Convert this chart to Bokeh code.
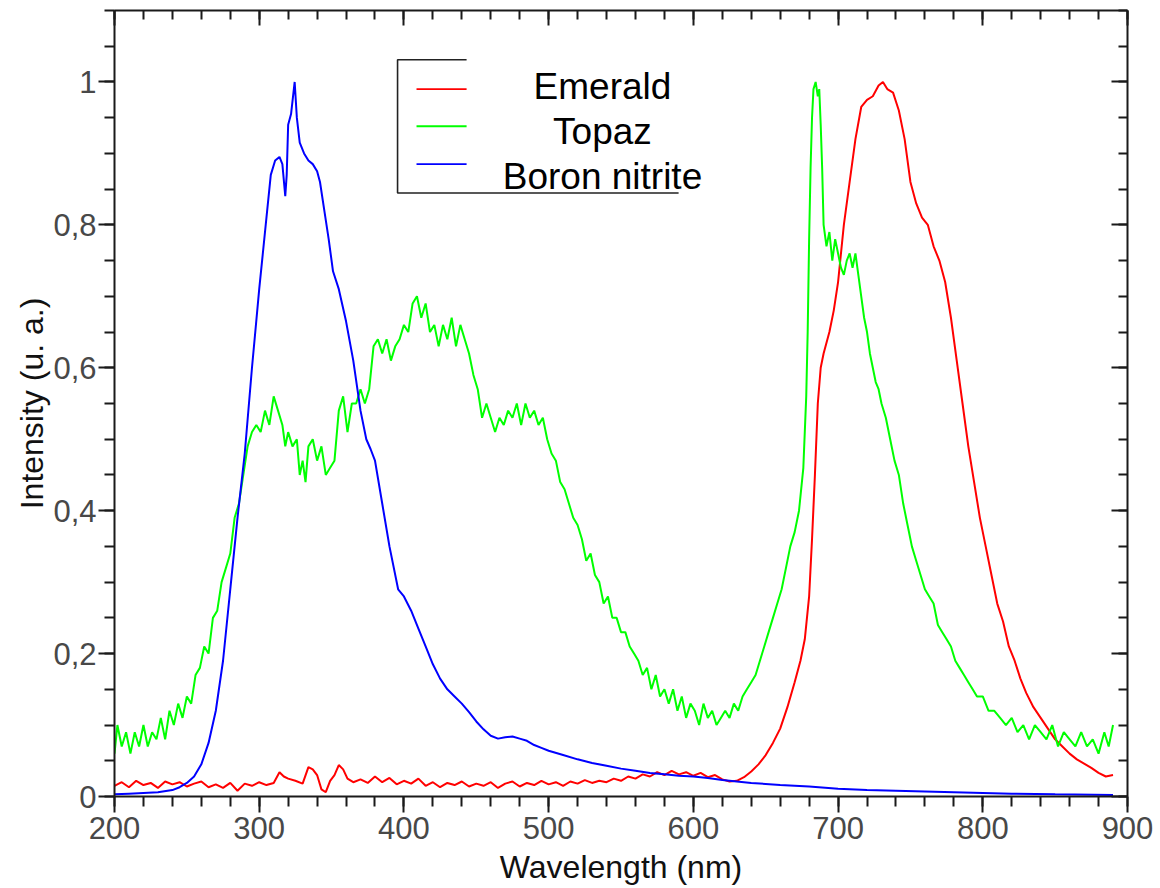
import math
from bokeh.plotting import figure
from bokeh.models import FixedTicker, LinearAxis, CustomJSTickFormatter, Label, Range1d
from bokeh.embed import file_html
from bokeh.resources import INLINE

FONT = "Liberation Sans"

# ---------------- axes / ticks ----------------
x_ticks = [200, 300, 400, 500, 600, 700, 800, 900]
x_minor = [200, 220, 240, 260, 280, 300, 320, 340, 360, 380, 400, 420, 440, 460, 480,
           500, 520, 540, 560, 580, 600, 620, 640, 660, 680, 700, 720, 740, 760, 780,
           800, 820, 840, 860, 880, 900]
y_ticks = [0, 0.2, 0.4, 0.6, 0.8, 1.0]
y_minor = [0, 0.05, 0.1, 0.15, 0.2, 0.25, 0.3, 0.35, 0.4, 0.45, 0.5, 0.55, 0.6, 0.65,
           0.7, 0.75, 0.8, 0.85, 0.9, 0.95, 1.0, 1.05, 1.1]
x_title = "Wavelength (nm)"
y_title = "Intensity (u. a.)"

# ---------------- series ----------------
series_names = ["Emerald", "Topaz", "Boron nitrite"]
series_colors = ["#ff0000", "#00ff00", "#0000ff"]

wl_emerald = [200, 205, 210, 215, 220, 225, 230, 235, 240, 245, 250, 255, 260, 265, 270,
              275, 280, 285, 290, 295, 300, 305, 310, 314, 317, 320, 325, 330, 334, 337,
              340, 343, 346, 349, 352, 355, 358, 361, 365, 370, 375, 380, 385, 390, 395,
              400, 405, 410, 415, 420, 425, 430, 435, 440, 445, 450, 455, 460, 465, 470,
              475, 480, 485, 490, 495, 500, 505, 510, 515, 520, 525, 530, 535, 540, 545,
              550, 555, 560, 565, 570, 575, 580, 585, 590, 595, 600, 605, 610, 615, 620,
              625, 630, 635, 640, 645, 650, 655, 660, 665, 670, 674, 677, 680, 682, 684,
              686, 688, 690, 694, 697, 700, 704, 708, 712, 716, 720, 724, 728, 731, 734,
              738, 742, 746, 750, 754, 758, 762, 766, 770, 774, 778, 782, 786, 790, 794,
              798, 802, 806, 810, 814, 818, 822, 826, 830, 835, 840, 845, 850, 855, 860,
              865, 870, 875, 880, 885, 890]
emerald = [0.015, 0.020, 0.013, 0.022, 0.016, 0.019, 0.012, 0.021, 0.017, 0.020, 0.014, 0.018,
           0.021, 0.013, 0.017, 0.012, 0.019, 0.008, 0.018, 0.015, 0.020, 0.016, 0.019, 0.034,
           0.028, 0.025, 0.022, 0.018, 0.041, 0.038, 0.030, 0.010, 0.006, 0.022, 0.030, 0.044,
           0.038, 0.025, 0.020, 0.024, 0.019, 0.028, 0.020, 0.026, 0.017, 0.022, 0.018, 0.025,
           0.015, 0.020, 0.013, 0.019, 0.016, 0.021, 0.014, 0.018, 0.015, 0.020, 0.012, 0.018,
           0.021, 0.014, 0.019, 0.016, 0.022, 0.017, 0.020, 0.015, 0.021, 0.018, 0.023, 0.019,
           0.022, 0.020, 0.025, 0.022, 0.028, 0.025, 0.031, 0.028, 0.034, 0.030, 0.036, 0.031,
           0.034, 0.029, 0.033, 0.027, 0.030, 0.024, 0.021, 0.022, 0.027, 0.035, 0.045, 0.058,
           0.075, 0.095, 0.125, 0.160, 0.190, 0.220, 0.280, 0.360, 0.450, 0.550, 0.600, 0.620,
           0.650, 0.680, 0.720, 0.800, 0.860, 0.920, 0.965, 0.975, 0.980, 0.995, 1.000, 0.990,
           0.985, 0.960, 0.920, 0.860, 0.830, 0.810, 0.800, 0.770, 0.750, 0.720, 0.670, 0.610,
           0.550, 0.490, 0.440, 0.390, 0.350, 0.310, 0.270, 0.245, 0.210, 0.190, 0.165, 0.145,
           0.125, 0.110, 0.095, 0.080, 0.070, 0.060, 0.052, 0.046, 0.040, 0.033, 0.028, 0.030]

wl_topaz = [200, 202, 205, 208, 211, 214, 217, 220, 223, 226, 229, 232, 235, 238, 241, 244,
            247, 250, 253, 256, 259, 262, 265, 268, 271, 274, 277, 280, 283, 286, 289, 292,
            295, 298, 301, 304, 307, 310, 313, 316, 318, 320, 323, 326, 328, 330, 332, 334,
            337, 340, 343, 346, 349, 352, 355, 358, 361, 364, 367, 370, 373, 376, 379, 382,
            385, 388, 391, 394, 397, 400, 403, 406, 409, 412, 415, 418, 421, 424, 427, 430,
            433, 436, 439, 442, 445, 448, 451, 454, 457, 460, 463, 466, 469, 472, 475, 478,
            481, 484, 487, 490, 493, 496, 499, 502, 505, 508, 511, 514, 517, 520, 523, 526,
            529, 532, 535, 538, 541, 544, 547, 550, 553, 556, 559, 562, 565, 568, 571, 574,
            577, 580, 583, 586, 589, 592, 595, 598, 601, 604, 607, 610, 613, 616, 619, 622,
            625, 628, 631, 634, 637, 640, 643, 646, 649, 652, 655, 658, 661, 664, 667, 670,
            673, 676, 678, 679, 680, 681, 682, 683, 684.5, 686, 687, 688, 689, 690, 692, 694,
            696, 698, 700, 702, 704, 706, 708, 710, 712, 714, 716, 718, 720, 722, 724, 726,
            728, 730, 733, 736, 739, 742, 745, 748, 751, 754, 757, 760, 763, 766, 769, 772,
            775, 778, 781, 784, 787, 790, 793, 796, 800, 804, 808, 812, 816, 820, 824, 828,
            832, 836, 840, 844, 848, 852, 856, 860, 864, 868, 872, 876, 880, 884, 887, 890]
topaz = [0.06, 0.10, 0.07, 0.09, 0.06, 0.09, 0.07, 0.10, 0.07, 0.09, 0.08, 0.11, 0.08, 0.12,
         0.10, 0.13, 0.11, 0.14, 0.13, 0.17, 0.18, 0.21, 0.20, 0.25, 0.26, 0.30, 0.32, 0.34,
         0.39, 0.41, 0.45, 0.49, 0.51, 0.52, 0.51, 0.54, 0.52, 0.56, 0.54, 0.52, 0.49, 0.51,
         0.49, 0.50, 0.45, 0.47, 0.44, 0.49, 0.50, 0.47, 0.49, 0.45, 0.46, 0.47, 0.54, 0.56,
         0.51, 0.55, 0.55, 0.57, 0.55, 0.57, 0.63, 0.64, 0.62, 0.64, 0.61, 0.63, 0.64, 0.66,
         0.65, 0.69, 0.70, 0.67, 0.69, 0.65, 0.66, 0.63, 0.66, 0.64, 0.67, 0.63, 0.66, 0.64,
         0.62, 0.59, 0.57, 0.53, 0.55, 0.53, 0.51, 0.53, 0.52, 0.54, 0.53, 0.55, 0.52, 0.55,
         0.53, 0.54, 0.52, 0.53, 0.50, 0.48, 0.47, 0.44, 0.43, 0.41, 0.39, 0.38, 0.36, 0.33,
         0.34, 0.31, 0.30, 0.27, 0.28, 0.25, 0.25, 0.23, 0.23, 0.21, 0.20, 0.19, 0.17, 0.18,
         0.15, 0.17, 0.14, 0.15, 0.13, 0.15, 0.12, 0.14, 0.11, 0.13, 0.12, 0.10, 0.13, 0.11,
         0.12, 0.10, 0.11, 0.12, 0.11, 0.13, 0.12, 0.14, 0.15, 0.16, 0.17, 0.19, 0.21, 0.23,
         0.25, 0.27, 0.29, 0.32, 0.35, 0.37, 0.40, 0.46, 0.56, 0.65, 0.78, 0.88, 0.95, 0.99,
         1.00, 0.98, 0.99, 0.94, 0.88, 0.80, 0.77, 0.79, 0.75, 0.78, 0.76, 0.74, 0.73, 0.75,
         0.76, 0.74, 0.76, 0.73, 0.70, 0.67, 0.65, 0.62, 0.60, 0.58, 0.57, 0.55, 0.53, 0.50,
         0.47, 0.45, 0.41, 0.38, 0.35, 0.33, 0.31, 0.29, 0.28, 0.27, 0.24, 0.23, 0.22, 0.21,
         0.19, 0.18, 0.17, 0.16, 0.15, 0.14, 0.14, 0.12, 0.12, 0.11, 0.10, 0.11, 0.09, 0.10,
         0.08, 0.10, 0.09, 0.08, 0.10, 0.07, 0.09, 0.08, 0.07, 0.09, 0.07, 0.08, 0.06, 0.09,
         0.07, 0.10]

wl_boron = [200, 210, 220, 230, 240, 245, 250, 255, 260, 265, 270, 275, 280, 285, 290, 295,
            300, 305, 308, 311, 314, 316, 318, 319, 320, 322, 324.5, 326, 328, 331, 334, 337,
            340, 342, 345, 348, 351, 355, 360, 365, 370, 374, 377, 380, 385, 390, 396, 400,
            405, 410, 415, 420, 425, 430, 435, 440, 445, 450, 455, 460, 465, 470, 475, 480,
            485, 490, 495, 500, 510, 520, 530, 540, 550, 560, 570, 580, 590, 600, 610, 620,
            640, 660, 680, 700, 720, 740, 760, 780, 800, 820, 850, 890]
boron = [0.003, 0.004, 0.005, 0.006, 0.009, 0.013, 0.019, 0.028, 0.045, 0.075, 0.120, 0.190,
         0.290, 0.390, 0.480, 0.600, 0.710, 0.810, 0.870, 0.890, 0.895, 0.885, 0.840, 0.870,
         0.940, 0.955, 1.000, 0.950, 0.915, 0.900, 0.890, 0.885, 0.875, 0.860, 0.820, 0.780,
         0.735, 0.710, 0.665, 0.610, 0.540, 0.500, 0.486, 0.470, 0.410, 0.350, 0.290, 0.280,
         0.260, 0.235, 0.210, 0.185, 0.165, 0.150, 0.140, 0.130, 0.118, 0.105, 0.094, 0.085,
         0.081, 0.083, 0.084, 0.081, 0.078, 0.072, 0.068, 0.064, 0.058, 0.052, 0.047, 0.043,
         0.039, 0.036, 0.033, 0.031, 0.029, 0.028, 0.026, 0.023, 0.019, 0.016, 0.014, 0.011,
         0.009, 0.008, 0.007, 0.006, 0.005, 0.004, 0.003, 0.002]

# ---------------- figure ----------------
p = figure(width=1160, height=888, x_range=Range1d(200, 900), y_range=Range1d(0, 1.1),
           output_backend="svg", toolbar_location=None,
           min_border_left=114, min_border_right=33, min_border_top=10, min_border_bottom=92,
           background_fill_color="white", border_fill_color="white")
p.outline_line_color = None
p.xgrid.visible = False
p.ygrid.visible = False

AX_COLOR = "#1a1a1a"
LBL_COLOR = "#484848"
TITLE_COLOR = "#111111"


def style_axis(ax):
    ax.axis_line_width = 2
    ax.axis_line_color = AX_COLOR
    ax.major_tick_line_width = 2
    ax.minor_tick_line_width = 2
    ax.major_tick_line_color = AX_COLOR
    ax.minor_tick_line_color = AX_COLOR
    ax.major_label_text_font = FONT
    ax.major_label_text_color = LBL_COLOR


xax = p.xaxis[0]
xax.ticker = FixedTicker(ticks=x_ticks, minor_ticks=x_minor)
style_axis(xax)
xax.major_tick_in = 0
xax.major_tick_out = 16
xax.minor_tick_in = 0
xax.minor_tick_out = 10
xax.major_label_standoff = 4
xax.major_label_text_font_size = "31px"
xax.axis_label = x_title
xax.axis_label_standoff = 7
xax.axis_label_text_font = FONT
xax.axis_label_text_font_size = "32px"
xax.axis_label_text_font_style = "normal"
xax.axis_label_text_color = TITLE_COLOR

yax = p.yaxis[0]
yax.ticker = FixedTicker(ticks=y_ticks, minor_ticks=y_minor)
yax.formatter = CustomJSTickFormatter(
    code="return (Math.round(tick*10)/10).toString().replace('.', ',');")
style_axis(yax)
yax.major_tick_in = 0
yax.major_tick_out = 16
yax.minor_tick_in = 0
yax.minor_tick_out = 10
yax.major_label_standoff = 2
yax.major_label_text_font_size = "31px"
yax.axis_label = y_title
yax.axis_label_standoff = 0
yax.axis_label_text_font = FONT
yax.axis_label_text_font_size = "32px"
yax.axis_label_text_font_style = "normal"
yax.axis_label_text_color = TITLE_COLOR

top = LinearAxis(ticker=FixedTicker(ticks=x_ticks, minor_ticks=x_minor),
                 formatter=CustomJSTickFormatter(code="return '';"),
                 major_tick_in=15, major_tick_out=0, minor_tick_in=9, minor_tick_out=0,
                 major_label_standoff=0, major_label_text_font_size="1px")
style_axis(top)
p.add_layout(top, "above")

right = LinearAxis(ticker=FixedTicker(ticks=y_ticks, minor_ticks=y_minor),
                   formatter=CustomJSTickFormatter(code="return '';"),
                   major_tick_in=16, major_tick_out=0, minor_tick_in=9, minor_tick_out=0,
                   major_label_standoff=0, major_label_text_font_size="1px")
style_axis(right)
p.add_layout(right, "right")

# ---------------- curves ----------------
p.line(wl_emerald, emerald, line_color=series_colors[0], line_width=2)
p.line(wl_topaz, topaz, line_color=series_colors[1], line_width=2)
p.line(wl_boron, boron, line_color=series_colors[2], line_width=2)

# ---------------- legend (drawn manually) ----------------
leg_box_x = [443.3, 395.6, 395.6, 589.8]
leg_box_y = [1.031, 1.031, 0.8445, 0.8445]
p.line(leg_box_x, leg_box_y, line_color="#222222", line_width=1.6)

leg_line_x = [[408.7, 443.3], [408.7, 443.3], [408.7, 443.3]]
leg_line_y = [[0.990, 0.990], [0.938, 0.938], [0.885, 0.885]]
p.multi_line(leg_line_x, leg_line_y, line_color=series_colors, line_width=1.8)

leg_text_x = 537.2
leg_text_y = [0.994, 0.931, 0.868]
for name, ty in zip(series_names, leg_text_y):
    p.add_layout(Label(x=leg_text_x, y=ty, text=name, text_align="center",
                       text_baseline="alphabetic", text_font=FONT,
                       text_font_size="37px", text_color="#000000"))

open("out.html", "w").write(file_html(p, INLINE))
